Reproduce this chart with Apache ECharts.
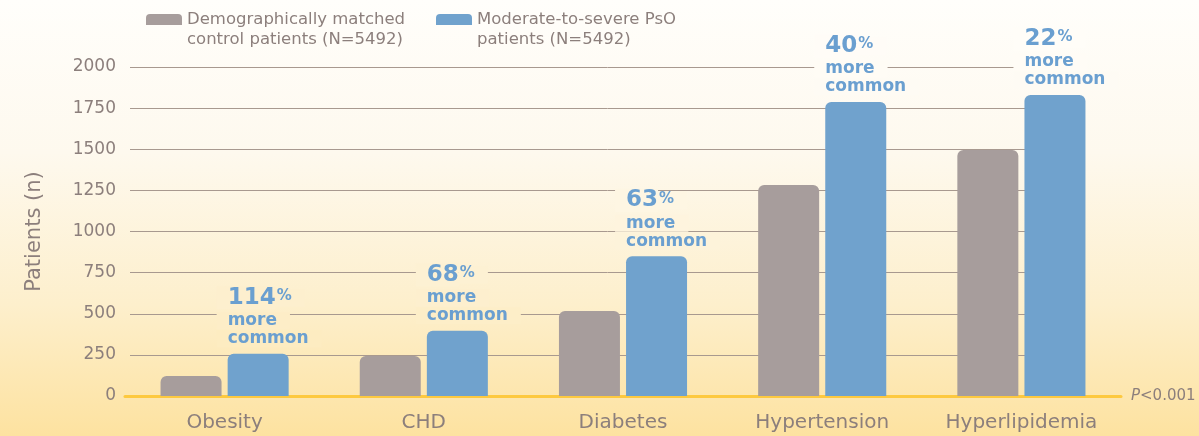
<!DOCTYPE html>
<html>
<head>
<meta charset="utf-8">
<script src="https://cdn.jsdelivr.net/npm/echarts@6/dist/echarts.min.js"></script>
<style>
  html, body { margin: 0; padding: 0; }
  #main {
    width: 1199px;
    height: 436px;
    background: linear-gradient(to bottom, #fffefb 0%, #fef9ee 35%, #fdefcc 70%, #fde2a0 100%);
  }
</style>
</head>
<body>
<div id="main"></div>
<script>
// data
const categories = ['Obesity', 'CHD', 'Diabetes', 'Hypertension', 'Hyperlipidemia'];
const controlValues = [122, 243, 517, 1283, 1495];
const psoValues = [257, 397, 849, 1787, 1830];
const increasePct = ['114', '68', '63', '40', '22'];
const yMin = 0, yMax = 2000, yStep = 250;

const controlName = 'Demographically matched\ncontrol patients (N=5492)';
const psoName = 'Moderate-to-severe PsO\npatients (N=5492)';

const textColor = '#8c7f7c';
const blueText = '#6a9fd0';
const font = 'DejaVu Sans';

// same stops as the page background (css above), used to paint label boxes
const bgStops = [[0, [0xff, 0xfe, 0xfb]], [0.35, [0xfe, 0xf9, 0xee]], [0.7, [0xfd, 0xef, 0xcc]], [1, [0xfd, 0xe2, 0xa0]]];
function bgAt(py) {
  let t = Math.max(0, Math.min(1, py / 436));
  for (let k = 1; k < bgStops.length; k++) {
    if (t <= bgStops[k][0]) {
      let a = bgStops[k - 1], b = bgStops[k];
      let f = (t - a[0]) / (b[0] - a[0]);
      let c = a[1].map((v, j) => Math.round(v + (b[1][j] - v) * f));
      return 'rgb(' + c.join(',') + ')';
    }
  }
  return 'rgb(253,226,160)';
}

function makeRich(cN, c1, c2) {
  return {
    n: { fontSize: 23, fontWeight: 'bold', color: blueText, lineHeight: 28,
         backgroundColor: cN, padding: [0, 0, 0, 11] },
    p: { fontSize: 15, fontWeight: 'bold', color: blueText, lineHeight: 28,
         verticalAlign: 'middle', backgroundColor: cN, padding: [0, 13, 3, 1] },
    t1: { fontSize: 17, fontWeight: 'bold', color: blueText, lineHeight: 18,
          backgroundColor: c1, padding: [0, 13, 0, 11] },
    t2: { fontSize: 17, fontWeight: 'bold', color: blueText, lineHeight: 18,
          backgroundColor: c2, padding: [0, 13, 0, 11] }
  };
}

function psoData(colors) {
  return psoValues.map((v, i) => ({
    value: v,
    label: {
      show: true,
      position: [-11, -6],
      align: 'left',
      verticalAlign: 'bottom',
      formatter: '{n|' + increasePct[i] + '}{p|%}\n{t1|more}\n{t2|common}',
      rich: colors ? makeRich(colors[i][0], colors[i][1], colors[i][2]) : makeRich('#fff', '#fff', '#fff')
    }
  }));
}

const swatch = 'path://M0,4 Q0,0 4,0 L32,0 Q36,0 36,4 L36,11 L0,11 Z';
const legendText = { color: textColor, fontSize: 16.5, lineHeight: 20 };
// an empty first line puts the first text line level with the swatch
const legendFormat = name => '\n' + name;

let myChart = echarts.init(document.getElementById('main'));
myChart.setOption({
  animation: false,
  textStyle: { fontFamily: font },
  legend: [
    {
      data: [controlName], left: 146, top: -10.5, padding: 0,
      icon: swatch, itemWidth: 36, itemHeight: 11, itemGap: 8,
      textStyle: legendText, formatter: legendFormat
    },
    {
      data: [psoName], left: 436, top: -10.5, padding: 0,
      icon: swatch, itemWidth: 36, itemHeight: 11, itemGap: 8,
      textStyle: legendText, formatter: legendFormat
    }
  ],
  grid: [
    { left: 125, right: 78, top: 67, bottom: 40, outerBoundsMode: 'none' },
    { left: 130, right: 114, top: 67, bottom: 40, outerBoundsMode: 'none' }
  ],
  xAxis: [
    {
      type: 'category', gridIndex: 0, data: categories,
      axisLine: { lineStyle: { color: '#fdc93f', width: 3 } },
      axisTick: { show: false },
      axisLabel: { color: textColor, fontSize: 20, margin: 17 },
      name: '{i|P}{t|<0.001}',
      nameLocation: 'end', nameGap: 10,
      nameTextStyle: {
        rich: {
          i: { fontStyle: 'italic', color: textColor, fontSize: 15 },
          t: { color: textColor, fontSize: 15 }
        }
      }
    },
    { type: 'category', gridIndex: 1, data: categories, show: false }
  ],
  yAxis: [
    {
      type: 'value', gridIndex: 0, min: yMin, max: yMax, interval: yStep,
      splitLine: { show: false },
      axisLabel: { color: textColor, fontSize: 17, margin: 9, formatter: v => String(v) },
      name: 'Patients (n)', nameLocation: 'middle', nameGap: 80,
      nameTextStyle: { color: textColor, fontSize: 21 }
    },
    {
      type: 'value', gridIndex: 1, min: yMin, max: yMax, interval: yStep,
      axisLabel: { show: false },
      splitLine: { lineStyle: { color: '#a8998f', width: 1 } }
    }
  ],
  series: [
    {
      name: controlName, type: 'bar', data: controlValues,
      barWidth: 61, barGap: '10%',
      itemStyle: { color: '#a79d9c', borderRadius: [6, 6, 0, 0] }
    },
    {
      name: psoName, type: 'bar', barWidth: 61,
      data: psoData(null),
      itemStyle: { color: '#70a2cd', borderRadius: [6, 6, 0, 0] }
    }
  ]
});

// label boxes take the background colour found at their height
let colors = psoValues.map((v, i) => {
  let py = myChart.convertToPixel({ xAxisIndex: 0, yAxisIndex: 0 }, [i, v])[1];
  return [bgAt(py - 56), bgAt(py - 33), bgAt(py - 15)];
});
myChart.setOption({ series: [{}, { data: psoData(colors) }] });
</script>
</body>
</html>
